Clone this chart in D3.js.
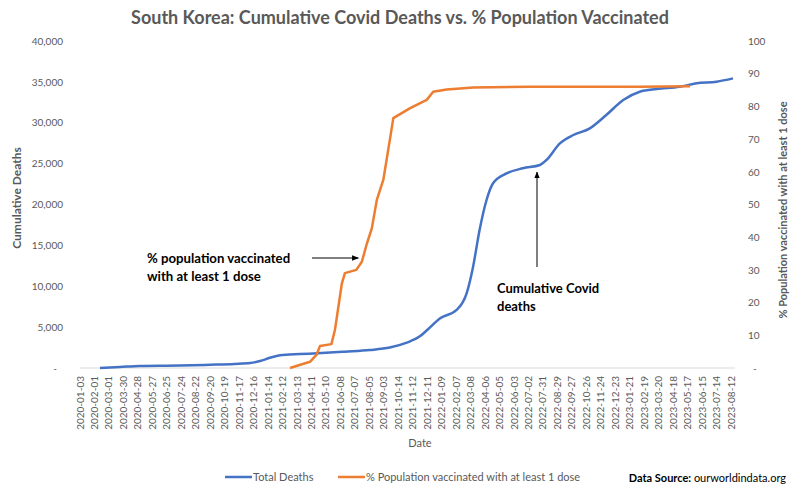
<!DOCTYPE html>
<html>
<head>
<meta charset="utf-8">
<script src="https://cdn.jsdelivr.net/npm/d3@7/dist/d3.min.js"></script>
<style>
  body { margin: 0; background: #fff; }
  text { font-family: Lato, "Open Sans", sans-serif; }
</style>
</head>
<body>
<script>
// category labels on the date axis (every 29th row of the sheet)
var tickLabels = ['2020-01-03','2020-02-01','2020-03-01','2020-03-30','2020-04-28','2020-05-27',
  '2020-06-25','2020-07-24','2020-08-22','2020-09-20','2020-10-19','2020-11-17','2020-12-16',
  '2021-01-14','2021-02-12','2021-03-13','2021-04-11','2021-05-10','2021-06-08','2021-07-07',
  '2021-08-05','2021-09-03','2021-10-14','2021-11-12','2021-12-11','2022-01-09','2022-02-07',
  '2022-03-08','2022-04-06','2022-05-05','2022-06-03','2022-07-02','2022-07-31','2022-08-29',
  '2022-09-27','2022-10-26','2022-11-24','2022-12-23','2023-01-21','2023-02-19','2023-03-20',
  '2023-04-18','2023-05-17','2023-06-15','2023-07-14','2023-08-12'];

var deathDates = ['2020-02-12','2020-03-23','2020-05-02','2020-07-21','2020-09-20','2020-11-08',
  '2020-12-09','2020-12-29','2021-01-18','2021-02-07','2021-03-19','2021-04-23','2021-06-17',
  '2021-08-06','2021-09-20','2021-10-31','2021-11-27','2021-12-11','2022-01-06','2022-02-08',
  '2022-02-28','2022-03-13','2022-03-26','2022-04-09','2022-04-22','2022-05-19','2022-06-21',
  '2022-07-25','2022-08-07','2022-09-03','2022-09-30','2022-11-02','2022-12-05','2023-01-08',
  '2023-02-10','2023-03-16','2023-05-01','2023-06-04','2023-07-14','2023-08-16'];
var deathValues = [0, 120, 250, 300, 400, 500, 600, 850, 1250, 1550, 1700, 1800, 2000, 2200, 2500,
  3100, 3900, 4650, 6080, 7100, 9130, 12400, 16880, 20550, 22590, 23800, 24430, 24830, 25440,
  27480, 28500, 29320, 30950, 32780, 33800, 34130, 34400, 34820, 35020, 35430];

var vaxDates = ['2021-02-27','2021-04-08','2021-04-21','2021-04-28','2021-05-21','2021-05-28',
  '2021-06-11','2021-06-17','2021-07-10','2021-07-21','2021-07-31','2021-08-10','2021-08-20',
  '2021-09-02','2021-09-20','2021-09-30','2021-11-06','2021-12-10','2021-12-23','2022-01-19',
  '2022-02-15','2022-03-13','2022-07-05','2023-02-10','2023-05-22'];
var vaxValues = [0, 1.9, 4, 6.7, 7.3, 11.6, 25.9, 29, 30, 32.5, 38, 42.7, 51.4, 57.5, 69.7, 76.4,
  79.4, 82, 84.5, 85.2, 85.5, 85.8, 86.0, 86.0, 86.2];

var leftTicks = [0, 5000, 10000, 15000, 20000, 25000, 30000, 35000, 40000];
var rightTicks = [0, 10, 20, 30, 40, 50, 60, 70, 80, 90, 100];

var parse = d3.timeParse('%Y-%m-%d');
var gray = '#595959';

var svg = d3.select('body').append('svg')
    .attr('width', 800)
    .attr('height', 496);

var plotL = 80, plotR = 731, plotT = 41, plotB = 368;

// the sheet uses a category axis, so map each labelled date onto an even step
var step = (plotR - plotL) / (tickLabels.length - 1);
var x = d3.scaleTime()
    .domain(tickLabels.map(parse))
    .range(tickLabels.map(function (d, i) { return plotL + i * step; }));

var yL = d3.scaleLinear().domain([0, 40000]).range([plotB, plotT]);
var yR = d3.scaleLinear().domain([0, 100]).range([plotB, plotT]);

// title
svg.append('text')
    .attr('x', 400).attr('y', 24)
    .attr('text-anchor', 'middle')
    .attr('font-size', 18).attr('font-weight', 'bold')
    .attr('fill', gray)
    .text('South Korea: Cumulative Covid Deaths vs. % Population Vaccinated');

// baseline
svg.append('line')
    .attr('x1', plotL).attr('x2', plotR + 4)
    .attr('y1', plotB).attr('y2', plotB)
    .attr('stroke', '#d9d9d9');

// left axis
var axL = svg.append('g')
    .attr('transform', 'translate(' + (plotL - 14) + ',0)')
    .call(d3.axisLeft(yL).tickValues(leftTicks).tickSize(0)
        .tickFormat(function (d) { return d === 0 ? '-' : d3.format(',')(d); }));
axL.select('.domain').remove();
axL.selectAll('text')
    .attr('font-family', 'Lato, sans-serif').attr('font-size', 10).attr('fill', gray);
axL.selectAll('.tick').filter(function (d) { return d === 0; }).select('text').attr('dx', -6);

// right axis
var axR = svg.append('g')
    .attr('transform', 'translate(' + (plotR + 14) + ',0)')
    .call(d3.axisRight(yR).tickValues(rightTicks).tickSize(0)
        .tickFormat(function (d) { return d === 0 ? '-' : d; }));
axR.select('.domain').remove();
axR.selectAll('text')
    .attr('font-family', 'Lato, sans-serif').attr('font-size', 10).attr('fill', gray);
axR.selectAll('.tick').filter(function (d) { return d === 0; }).select('text').attr('dx', 5);

// date labels
svg.append('g').selectAll('text')
    .data(tickLabels)
    .join('text')
    .attr('transform', function (d) {
        return 'translate(' + (x(parse(d)) + 3.5) + ',' + (plotB + 8) + ') rotate(-90)';
    })
    .attr('text-anchor', 'end')
    .attr('font-family', '"Liberation Sans", Arial, sans-serif')
    .attr('font-size', 10)
    .attr('fill', gray)
    .text(function (d) { return d; });

// axis titles
svg.append('text')
    .attr('transform', 'translate(21,198) rotate(-90)')
    .attr('text-anchor', 'middle')
    .attr('font-size', 12).attr('font-weight', 'bold').attr('fill', gray)
    .text('Cumulative Deaths');

svg.append('text')
    .attr('transform', 'translate(787,210) rotate(-90)')
    .attr('text-anchor', 'middle')
    .attr('font-size', 11).attr('font-weight', 'bold').attr('fill', gray)
    .text('% Population vaccinated with at least 1 dose');

svg.append('text')
    .attr('x', 420).attr('y', 447)
    .attr('text-anchor', 'middle')
    .attr('font-size', 11).attr('fill', gray)
    .text('Date');

// lines
var deathLine = d3.line()
    .x(function (d, i) { return x(parse(deathDates[i])); })
    .y(function (d) { return yL(d); })
    .curve(d3.curveMonotoneX);

var vaxLine = d3.line()
    .x(function (d, i) { return x(parse(vaxDates[i])); })
    .y(function (d) { return yR(d); });

svg.append('path')
    .attr('d', deathLine(deathValues))
    .attr('fill', 'none')
    .attr('stroke', '#4472C4')
    .attr('stroke-width', 2.5);

svg.append('path')
    .attr('d', vaxLine(vaxValues))
    .attr('fill', 'none')
    .attr('stroke', '#ED7D31')
    .attr('stroke-width', 2.5)
    .attr('stroke-linejoin', 'round');

// annotations
var defs = svg.append('defs');
defs.append('marker')
    .attr('id', 'arrow')
    .attr('viewBox', '0 0 10 10')
    .attr('refX', 9).attr('refY', 5)
    .attr('markerWidth', 7).attr('markerHeight', 7)
    .attr('orient', 'auto')
    .append('path')
    .attr('d', 'M0,1 L10,5 L0,9 Z')
    .attr('fill', '#000');

var vaxTipX = x(parse('2021-07-20'));
svg.append('line')
    .attr('x1', 312).attr('y1', 258)
    .attr('x2', vaxTipX - 3).attr('y2', 258)
    .attr('stroke', '#000').attr('stroke-width', 1)
    .attr('marker-end', 'url(#arrow)');

svg.append('line')
    .attr('x1', 537).attr('y1', 267)
    .attr('x2', 537).attr('y2', yL(24700) + 6)
    .attr('stroke', '#000').attr('stroke-width', 1)
    .attr('marker-end', 'url(#arrow)');

var noteVax = svg.append('text')
    .attr('font-size', 13.2).attr('font-weight', 'bold').attr('fill', '#000');
noteVax.append('tspan').attr('x', 147).attr('y', 263).text('% population vaccinated');
noteVax.append('tspan').attr('x', 147).attr('y', 281).text('with at least 1 dose');

var noteDeath = svg.append('text')
    .attr('font-size', 13).attr('font-weight', 'bold').attr('fill', '#000');
noteDeath.append('tspan').attr('x', 497).attr('y', 293).text('Cumulative Covid');
noteDeath.append('tspan').attr('x', 497).attr('y', 311).text('deaths');

// legend
var legend = [
    { name: 'Total Deaths', color: '#4472C4', x: 225 },
    { name: '% Population vaccinated with at least 1 dose', color: '#ED7D31', x: 338 }
];
var lg = svg.append('g').selectAll('g')
    .data(legend)
    .join('g')
    .attr('transform', function (d) { return 'translate(' + d.x + ',477)'; });
lg.append('line')
    .attr('x1', 0).attr('x2', 27)
    .attr('stroke', function (d) { return d.color; })
    .attr('stroke-width', 2.5);
lg.append('text')
    .attr('x', 28).attr('y', 4)
    .attr('font-size', 11).attr('fill', gray)
    .text(function (d) { return d.name; });

var src = svg.append('text')
    .attr('x', 786).attr('y', 482)
    .attr('text-anchor', 'end')
    .attr('font-size', 11).attr('fill', '#000');
src.append('tspan').attr('font-weight', 'bold').text('Data Source: ');
src.append('tspan').text('ourworldindata.org');
</script>
</body>
</html>
